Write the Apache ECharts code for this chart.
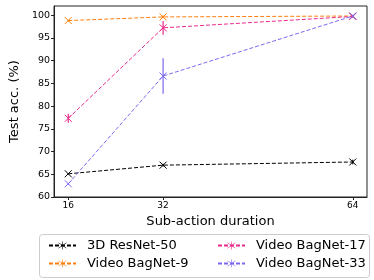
<!DOCTYPE html>
<html><head><meta charset="utf-8">
<script src="https://cdn.jsdelivr.net/npm/echarts@6/dist/echarts.min.js"></script>
<style>html,body{margin:0;padding:0;background:#fff}#c{width:374px;height:280px}</style>
</head><body><div id="c"></div>
<script>
const durations = [16, 32, 64];
const names = ['3D ResNet-50', 'Video BagNet-9', 'Video BagNet-17', 'Video BagNet-33'];
const colors = ['#000000', '#ff7f0e', '#e7298a', '#7b68ee'];
const resnet50 = [65.1, 67.0, 67.7];
const bagnet9 = [98.8, 99.6, 99.8];
const bagnet17 = [77.3, 97.2, 99.7];
const bagnet33 = [62.9, 86.6, 99.8];
const resnet50Err = [0.2, 0.3, 0.5];
const bagnet9Err = [0.2, 0.3, 0.2];
const bagnet17Err = [1.0, 1.5, 0.3];
const bagnet33Err = [0.2, 3.9, 0.3];
const yTicks = [60, 65, 70, 75, 80, 85, 90, 95, 100];

const values = [resnet50, bagnet9, bagnet17, bagnet33];
const errs = [resnet50Err, bagnet9Err, bagnet17Err, bagnet33Err];

const xSym = 'path://M0 0 L10 10 M10 0 L0 10';
const starSym = 'path://M1 1 L9 9 M9 1 L1 9 M5 -1 L5 11';

const font = 'DejaVu Sans';
const series = [];
names.forEach((n, i) => {
  series.push({
    name: n, type: 'line', data: [], symbol: starSym, symbolSize: 8,
    lineStyle: { color: colors[i], width: 1, type: [4, 2] },
    itemStyle: { color: colors[i], borderColor: colors[i], borderWidth: 0.8 }
  });
});
names.forEach((n, i) => {
  series.push({
    name: n, type: 'line',
    data: durations.map((d, k) => [d, values[i][k]]),
    symbol: xSym, symbolSize: 7, showSymbol: true,
    lineStyle: { color: colors[i], width: 1, type: [4, 2] },
    itemStyle: { color: colors[i], borderColor: colors[i], borderWidth: 1 },
    z: 3 + i
  });
  series.push({
    name: n, type: 'custom',
    data: durations.map((d, k) => [d, values[i][k] - errs[i][k], values[i][k] + errs[i][k]]),
    renderItem: (params, api) => {
      const p1 = api.coord([api.value(0), api.value(1)]);
      const p2 = api.coord([api.value(0), api.value(2)]);
      return { type: 'line', shape: { x1: p1[0], y1: p1[1], x2: p2[0], y2: p2[1] },
        style: { stroke: colors[i], lineWidth: 1.2 } };
    },
    z: 3 + i
  });
});

const legendText = { fontFamily: font, fontSize: 13, color: '#000', padding: [0, 0, 0, 6] };
const legendItem = { borderWidth: 0.6 };
const chart = echarts.init(document.getElementById('c'));
chart.setOption({
  animation: false,
  grid: { left: 41, right: 7, top: 6, bottom: 83, show: true, borderColor: '#222', borderWidth: 1 },
  xAxis: {
    type: 'value', min: 13.6, max: 66.4,
    name: 'Sub-action duration', nameLocation: 'middle', nameGap: 15,
    nameTextStyle: { fontFamily: font, fontSize: 13, color: '#000' },
    axisLine: { show: true, onZero: false, lineStyle: { color: '#222' } },
    axisTick: { show: true, customValues: durations, length: 3, lineStyle: { color: '#222' } },
    axisLabel: { customValues: durations, fontFamily: font, fontSize: 9, color: '#000', margin: 4 },
    splitLine: { show: false }
  },
  yAxis: {
    type: 'value', min: 60, max: 102,
    name: 'Test acc. (%)', nameLocation: 'middle', nameGap: 27,
    nameTextStyle: { fontFamily: font, fontSize: 13, color: '#000' },
    axisLine: { show: true, lineStyle: { color: '#222' } },
    axisTick: { show: true, customValues: yTicks, length: 3, lineStyle: { color: '#222' } },
    axisLabel: { customValues: yTicks, fontFamily: font, fontSize: 9.5, color: '#000', margin: 4 },
    splitLine: { show: false }
  },
  legend: [
    { orient: 'vertical', left: 43, top: 234, itemWidth: 27, itemHeight: 10, itemGap: 5,
      data: ['3D ResNet-50', 'Video BagNet-9'], textStyle: legendText, itemStyle: legendItem },
    { orient: 'vertical', left: 212, top: 234, itemWidth: 27, itemHeight: 10, itemGap: 5,
      data: ['Video BagNet-17', 'Video BagNet-33'], textStyle: legendText, itemStyle: legendItem }
  ],
  graphic: [{ type: 'rect', left: 37, top: 232, shape: { width: 330, height: 43, r: 3 },
    style: { fill: 'none', stroke: '#ccc', lineWidth: 1 }, z: -1 }],
  series: series
});
</script></body></html>
